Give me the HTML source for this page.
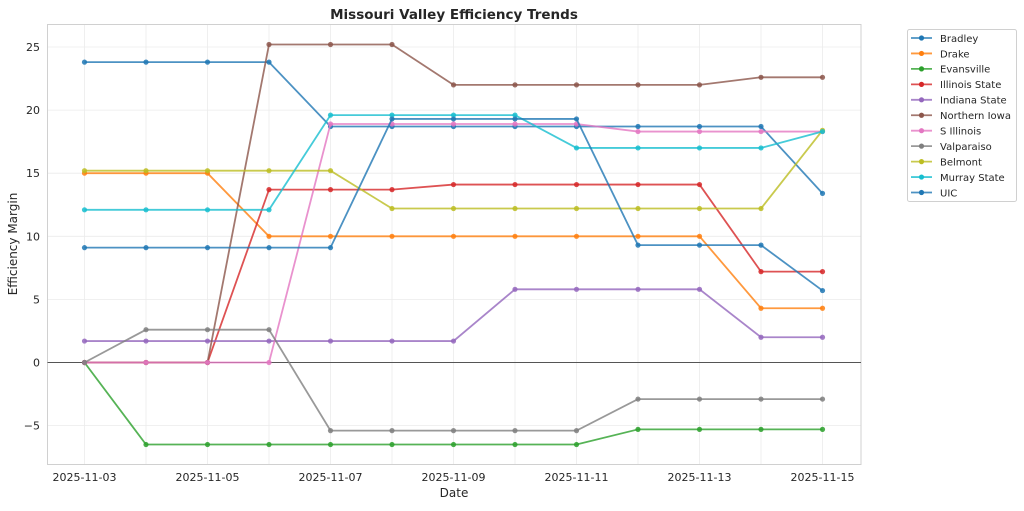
<!DOCTYPE html>
<html><head><meta charset="utf-8"><style>
body{margin:0;background:#fff;}
svg text{font-family:"DejaVu Sans","Liberation Sans",sans-serif;fill:#262626;}
</style></head><body>
<svg id="s" width="1024" height="506" xmlns="http://www.w3.org/2000/svg">
<rect width="1024" height="506" fill="#fff"/>
<text x="454" y="19" text-anchor="middle" font-size="13.5" font-weight="bold">Missouri Valley Efficiency Trends</text>
<text x="454" y="497" text-anchor="middle" font-size="12">Date</text>
<text transform="translate(17,244) rotate(-90)" text-anchor="middle" font-size="12">Efficiency Margin</text>
</svg>
<script>
const s=document.getElementById('s');const NS='http://www.w3.org/2000/svg';
function el(t,a,txt){const e=document.createElementNS(NS,t);for(const k in a)e.setAttribute(k,a[k]);if(txt!==undefined)e.textContent=txt;s.appendChild(e);return e;}
const L=47.5,T=24.5,R=861,B=464.5;
const X=i=>84.5+i*61.5, Y=v=>362.5-12.62*v;
// grid
for(let i=0;i<13;i++)el('line',{x1:X(i),x2:X(i),y1:T,y2:B,stroke:'#ebebeb','stroke-width':0.8});
for(const v of [-5,0,5,10,15,20,25]){el('line',{x1:L,x2:R,y1:Y(v),y2:Y(v),stroke:'#ebebeb','stroke-width':0.8});
el('text',{x:40,y:Y(v)+4,'text-anchor':'end','font-size':11},v<0?'\u22125':String(v));}
for(let i=0;i<13;i+=2)el('text',{x:X(i),y:481,'text-anchor':'middle','font-size':11},'2025-11-'+String(3+i).padStart(2,'0'));
el('rect',{x:L,y:T,width:R-L,height:B-T,fill:'none',stroke:'#d0d0d0','stroke-width':1});
el('line',{x1:L,x2:R,y1:Y(0),y2:Y(0),stroke:'#555','stroke-width':0.9});
const S=[
['Bradley','#1f77b4',[23.8,23.8,23.8,23.8,18.7,18.7,18.7,18.7,18.7,18.7,18.7,18.7,13.4]],
['Drake','#ff7f0e',[15,15,15,10,10,10,10,10,10,10,10,4.3,4.3]],
['Evansville','#2ca02c',[0,-6.5,-6.5,-6.5,-6.5,-6.5,-6.5,-6.5,-6.5,-5.3,-5.3,-5.3,-5.3]],
['Illinois State','#d62728',[0,0,0,13.7,13.7,13.7,14.1,14.1,14.1,14.1,14.1,7.2,7.2]],
['Indiana State','#9467bd',[1.7,1.7,1.7,1.7,1.7,1.7,1.7,5.8,5.8,5.8,5.8,2.0,2.0]],
['Northern Iowa','#8c564b',[0,0,0,25.2,25.2,25.2,22,22,22,22,22,22.6,22.6]],
['S Illinois','#e377c2',[0,0,0,0,18.9,18.9,18.9,18.9,18.9,18.3,18.3,18.3,18.3]],
['Valparaiso','#7f7f7f',[0,2.6,2.6,2.6,-5.4,-5.4,-5.4,-5.4,-5.4,-2.9,-2.9,-2.9,-2.9]],
['Belmont','#bcbd22',[15.2,15.2,15.2,15.2,15.2,12.2,12.2,12.2,12.2,12.2,12.2,12.2,18.4]],
['Murray State','#17becf',[12.1,12.1,12.1,12.1,19.6,19.6,19.6,19.6,17,17,17,17,18.3]],
['UIC','#1f77b4',[9.1,9.1,9.1,9.1,9.1,19.3,19.3,19.3,19.3,9.3,9.3,9.3,5.7]]];
for(const [n,c,d] of S){
 el('polyline',{points:d.map((v,i)=>X(i)+','+Y(v)).join(' '),fill:'none',stroke:c,'stroke-width':1.8,'stroke-opacity':0.8});
 d.forEach((v,i)=>el('circle',{cx:X(i),cy:Y(v),r:2.6,fill:c,'fill-opacity':0.85}));
}
el('rect',{x:907.5,y:29.5,width:109,height:172,fill:'#fff',stroke:'#d0d0d0',rx:2});
S.forEach(([n,c],k)=>{const y=38+k*15.45;
 el('line',{x1:911,x2:932,y1:y,y2:y,stroke:c,'stroke-width':1.8,'stroke-opacity':0.8});
 el('circle',{cx:921.5,cy:y,r:2.6,fill:c});
 el('text',{x:940,y:y+3.8,'font-size':10},n);});
</script>
</body></html>
